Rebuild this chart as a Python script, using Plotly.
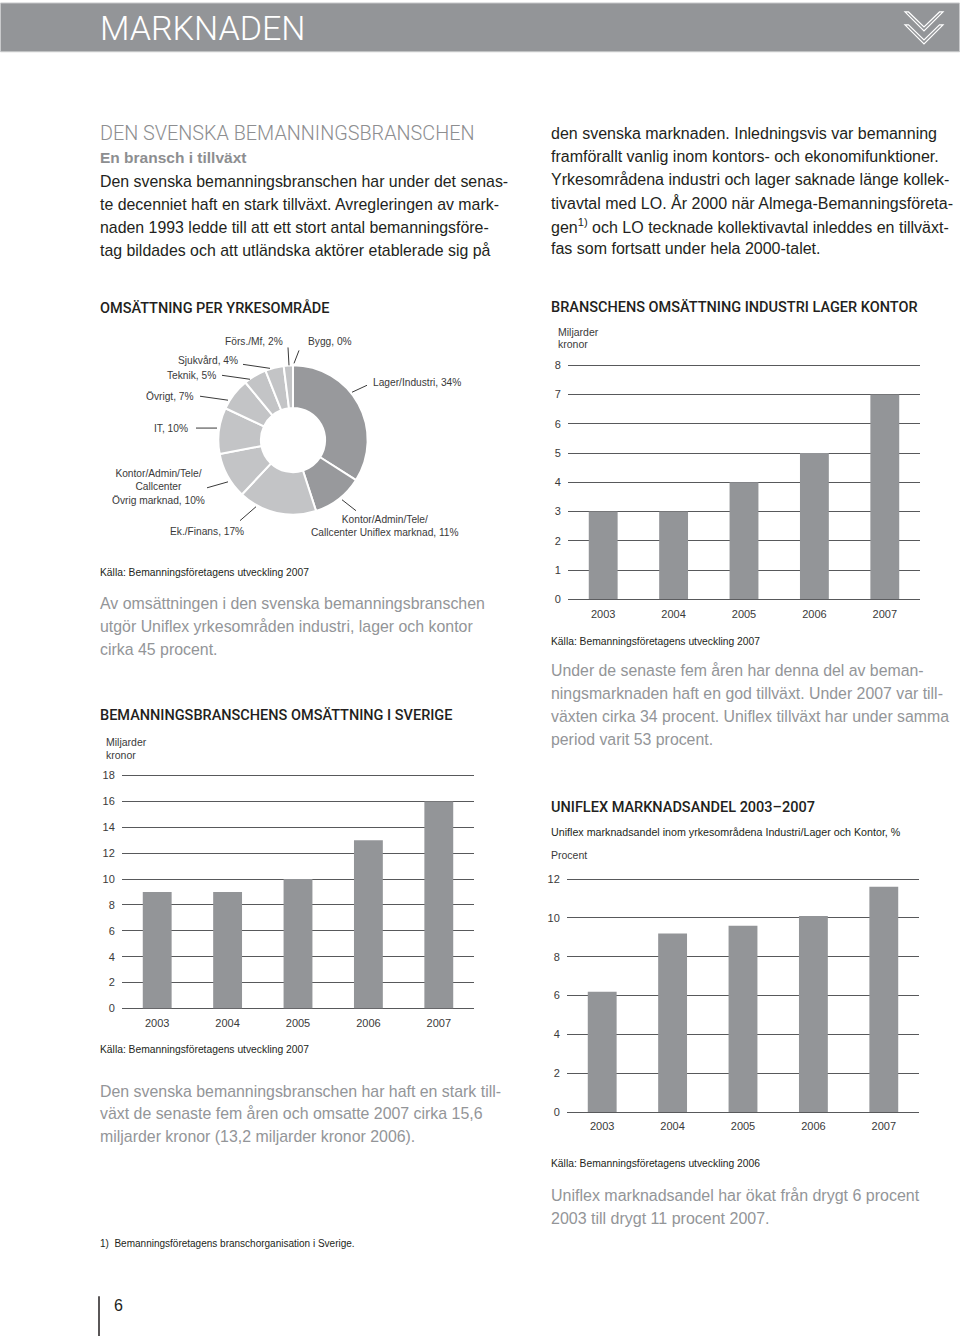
import plotly.graph_objects as go

W, H = 960, 1342
def X(p): return p / W
def Y(p): return 1 - p / H

# ---------------- data ----------------
pie_labels = ["Lager/Industri", "Kontor/Admin/Tele/Callcenter Uniflex marknad", "Ek./Finans",
              "Kontor/Admin/Tele/Callcenter Övrig marknad", "IT", "Övrigt", "Teknik",
              "Sjukvård", "Förs./Mf", "Bygg"]
pie_values = [34, 11, 17, 10, 10, 7, 5, 4, 2, 0]

years = ["2003", "2004", "2005", "2006", "2007"]
sverige_values = [9, 9, 10, 13, 16]          # Miljarder kronor
industri_values = [3, 3, 4, 5, 7]            # Miljarder kronor
uniflex_share = [6.2, 9.2, 9.6, 10.1, 11.6]  # Procent

sverige_ticks = [0, 2, 4, 6, 8, 10, 12, 14, 16, 18]
industri_ticks = [0, 1, 2, 3, 4, 5, 6, 7, 8]
uniflex_ticks = [0, 2, 4, 6, 8, 10, 12]

# ---------------- style ----------------
FONT = "Liberation Sans"
BLACK = "#231f20"
GREYTXT = "#8d8e90"
PARA = "#939598"
BAR = "#939598"
GRID = "#58595b"
DARK_SLICE = "#98999c"
LIGHT_SLICE = "#c3c4c6"

fig = go.Figure()

# donut
fig.add_trace(go.Pie(
    labels=pie_labels, values=pie_values, hole=0.43, sort=False,
    direction="clockwise", rotation=0, textinfo="none", showlegend=False,
    hoverinfo="skip",
    marker=dict(colors=[DARK_SLICE, DARK_SLICE] + [LIGHT_SLICE] * 8,
                line=dict(color="white", width=2)),
    domain=dict(x=[X(293 - 75), X(293 + 75)], y=[Y(442 + 75), Y(442 - 75)]),
))

PAD = 1.03  # head-room so the top gridline is drawn

def bar_chart(xa, ya, vals, ticks, xdom, ydom):
    fig.add_trace(go.Bar(x=years, y=vals, marker=dict(color=BAR, line=dict(width=0)),
                         xaxis=xa, yaxis=ya, showlegend=False, hoverinfo="skip"))
    xkey = "xaxis" + xa[1:]
    ykey = "yaxis" + ya[1:]
    bottom, top = ydom
    top_ext = bottom - PAD * (bottom - top)
    fig.layout[xkey] = dict(domain=[X(xdom[0]), X(xdom[1])], anchor=ya, type="category",
                            range=[-0.5, 4.5], showgrid=False, showline=False, zeroline=False,
                            ticks="outside", ticklen=4, tickcolor="rgba(0,0,0,0)",
                            tickfont=dict(family=FONT, size=11, color="#3a3a3a"), fixedrange=True)
    fig.layout[ykey] = dict(domain=[Y(bottom), Y(top_ext)], anchor=xa,
                            range=[0, ticks[-1] * PAD], tickvals=ticks,
                            showgrid=True, gridcolor=GRID, gridwidth=1.3,
                            zeroline=True, zerolinecolor=GRID, zerolinewidth=1.3,
                            showline=False, ticks="outside", ticklen=4,
                            tickcolor="rgba(0,0,0,0)",
                            tickfont=dict(family=FONT, size=11, color="#3a3a3a"), fixedrange=True)

bar_chart("x", "y", sverige_values, sverige_ticks, (122, 474), (1013, 779))
bar_chart("x2", "y2", industri_values, industri_ticks, (568, 920), (602, 367))
bar_chart("x3", "y3", uniflex_share, uniflex_ticks, (567, 919), (1117, 883))
fig.update_layout(bargap=0.59)

ann = []
def T(x, y, s, size=15.5, color=BLACK, anchor="left", weight=None, family=FONT):
    f = dict(family=family, size=size, color=color)
    if weight:
        f["weight"] = weight
    ann.append(dict(x=X(x), y=Y(y), xref="paper", yref="paper", text=s, showarrow=False,
                    xanchor=anchor, yanchor="middle", font=f, align=anchor))

TITLE = dict(size=14.5, family="Roboto", weight=500)

# header
T(98, 28, "MARKNADEN", size=34, color="white", family="Roboto", weight=300)

# intro
T(98, 134, "DEN SVENSKA BEMANNINGSBRANSCHEN", size=19.8, color=GREYTXT, family="Roboto", weight=300)
T(98, 158, "En bransch i tillväxt", size=15.5, color=GREYTXT, weight="bold")
left_body = ["Den svenska bemanningsbranschen har under det senas-",
             "te decenniet haft en stark tillväxt. Avregleringen av mark-",
             "naden 1993 ledde till att ett stort antal bemanningsföre-",
             "tag bildades och att utländska aktörer etablerade sig på"]
for i, s in enumerate(left_body):
    T(98, 182 + 23.2 * i, s, size=15.9)
right_body = ["den svenska marknaden. Inledningsvis var bemanning",
              "framförallt vanlig inom kontors- och ekonomifunktioner.",
              "Yrkesområdena industri och lager saknade länge kollek-",
              "tivavtal med LO. År 2000 när Almega-Bemanningsföreta-",
              "gen<sup>1)</sup> och LO tecknade kollektivavtal inleddes en tillväxt-",
              "fas som fortsatt under hela 2000-talet."]
for i, s in enumerate(right_body):
    T(549, 134 + 23.2 * i, s, size=16.0)

# chart 1 (donut)
T(98, 309, "OMSÄTTNING PER YRKESOMRÅDE", **TITLE)
L = dict(size=10.2, color="#3a3a3a")
T(285, 343, "Förs./Mf, 2%", anchor="right", **L)
T(306, 343, "Bygg, 0%", **L)
T(240, 362, "Sjukvård, 4%", anchor="right", **L)
T(218, 377, "Teknik, 5%", anchor="right", **L)
T(196, 398, "Övrigt, 7%", anchor="right", **L)
T(190, 430, "IT, 10%", anchor="right", **L)
T(158, 489, "Kontor/Admin/Tele/<br>Callcenter<br>Övrig marknad, 10%", anchor="center", **L)
T(246, 534, "Ek./Finans, 17%", anchor="right", **L)
T(385, 528, "Kontor/Admin/Tele/<br>Callcenter Uniflex marknad, 11%", anchor="center", **L)
T(371, 384, "Lager/Industri, 34%", **L)
T(98, 575, "Källa: Bemanningsföretagens utveckling 2007", size=10.3)
for i, s in enumerate(["Av omsättningen i den svenska bemanningsbranschen",
                       "utgör Uniflex yrkesområden industri, lager och kontor",
                       "cirka 45 procent."]):
    T(98, 606 + 23 * i, s, size=15.9, color=PARA)

# chart 3
T(98, 719, "BEMANNINGSBRANSCHENS OMSÄTTNING I SVERIGE", **TITLE)
T(104, 745, "Miljarder", size=10.5, color="#3a3a3a")
T(104, 758, "kronor", size=10.5, color="#3a3a3a")
T(98, 1054, "Källa: Bemanningsföretagens utveckling 2007", size=10.3)
for i, s in enumerate(["Den svenska bemanningsbranschen har haft en stark till-",
                       "växt de senaste fem åren och omsatte 2007 cirka 15,6",
                       "miljarder kronor (13,2 miljarder kronor 2006)."]):
    T(98, 1096 + 23 * i, s, size=15.9, color=PARA)
T(98, 1249, "1)&nbsp;&nbsp;Bemanningsföretagens branschorganisation i Sverige.", size=10)
T(112, 1311, "6", size=16)

# chart 2
T(549, 309, "BRANSCHENS OMSÄTTNING INDUSTRI LAGER KONTOR", **TITLE)
T(556, 333, "Miljarder", size=10.5, color="#3a3a3a")
T(556, 346, "kronor", size=10.5, color="#3a3a3a")
T(549, 644, "Källa: Bemanningsföretagens utveckling 2007", size=10.3)
for i, s in enumerate(["Under de senaste fem åren har denna del av beman-",
                       "ningsmarknaden haft en god tillväxt. Under 2007 var till-",
                       "växten cirka 34 procent. Uniflex tillväxt har under samma",
                       "period varit 53 procent."]):
    T(549, 674 + 23 * i, s, size=15.85, color=PARA)

# chart 4
T(549, 811, "UNIFLEX MARKNADSANDEL 2003–2007", **TITLE)
T(549, 836, "Uniflex marknadsandel inom yrkesområdena Industri/Lager och Kontor, %", size=10.7)
T(549, 859, "Procent", size=10.5, color="#3a3a3a")
T(549, 1169, "Källa: Bemanningsföretagens utveckling 2006", size=10.3)
for i, s in enumerate(["Uniflex marknadsandel har ökat från drygt 6 procent",
                       "2003 till drygt 11 procent 2007."]):
    T(549, 1201 + 22.5 * i, s, size=16.0, color=PARA)

shapes = []
def line(x0, y0, x1, y1, color="#3a3a3a", width=1):
    shapes.append(dict(type="line", xref="paper", yref="paper", x0=X(x0), y0=Y(y0),
                       x1=X(x1), y1=Y(y1), line=dict(color=color, width=width)))

# header band
shapes.append(dict(type="rect", xref="paper", yref="paper", x0=X(0.5), x1=X(959.5), y0=Y(52), y1=Y(3),
                   fillcolor="#939598", line=dict(color="#c9cacc", width=1), layer="below"))
def chevron(ytop):
    pts = [(905, ytop), (924, ytop + 19), (943, ytop), (939.5, ytop),
           (924, ytop + 15), (908.5, ytop)]
    path = "M " + " L ".join(f"{X(a)},{Y(b)}" for a, b in pts) + " Z"
    shapes.append(dict(type="path", xref="paper", yref="paper", path=path,
                       line=dict(color="white", width=1.2), fillcolor="rgba(0,0,0,0)"))
chevron(12)
chevron(25)

# donut leader lines
line(288, 349, 289, 367)
line(299, 352, 294, 365)
line(243, 366, 270, 370)
line(222, 377, 250, 381)
line(200, 398, 228, 402)
line(196, 430, 217, 430)
line(207, 490, 228, 484)
line(240, 523, 256, 509)
line(342, 502, 356, 513)
line(352, 394, 367, 387)

# page number bar
line(99, 1302, 99, 1342, color=BLACK, width=1.5)

fig.update_layout(width=W, height=H, margin=dict(l=0, r=0, t=0, b=0),
                  paper_bgcolor="white", plot_bgcolor="white", hovermode=False,
                  annotations=ann, shapes=shapes, showlegend=False)

post = ("document.documentElement.style.margin='0';document.documentElement.style.overflow='hidden';"
        "document.body.style.margin='0';document.body.style.overflow='hidden';"
        "var d=document.querySelector('.plotly-graph-div');"
        "d.style.position='absolute';d.style.left='0px';d.style.top='0px';")
fig.write_html("out.html", config={"displayModeBar": False}, post_script=post)
